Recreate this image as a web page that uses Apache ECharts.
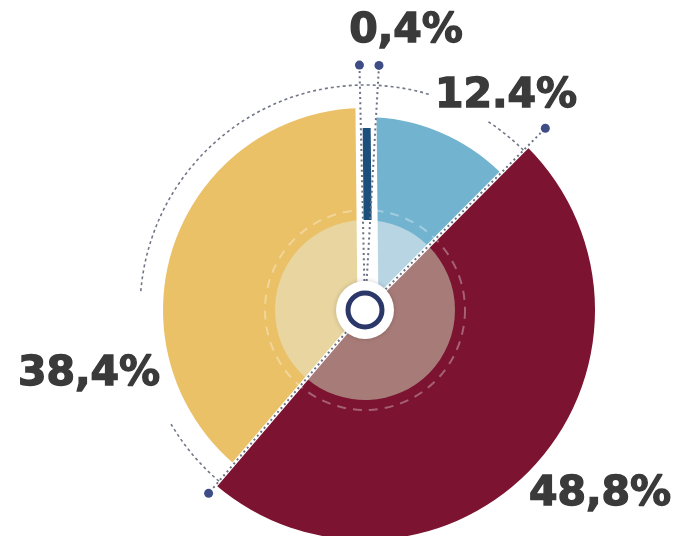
<!DOCTYPE html>
<html>
<head>
<meta charset="utf-8">
<script src="https://cdn.jsdelivr.net/npm/echarts@6/dist/echarts.min.js"></script>
<style>
  html, body { margin: 0; padding: 0; background: #ffffff; }
  #chart { width: 683px; height: 536px; }
</style>
</head>
<body>
<div id="chart"></div>
<script>
// Share of each segment, clockwise from the top
const labels = ['0,4%', '12.4%', '48,8%', '38,4%'];
const values = [0.4, 12.4, 48.8, 38.4];

const colors = ['#1d4f7c', '#72b4d0', '#7b1331', '#ebc168'];
const innerColors = ['rgba(0,0,0,0)', '#b8d5e3', '#a77b78', '#e8d5a0'];
const outerRadius = [182, 193, 230, 202];

const CENTER = [365, 310];
const START = 91.3;
const TRANSPARENT = 'rgba(0,0,0,0)';

// cumulative boundaries, in percent of the full turn
const total = values.reduce((a, b) => a + b, 0);
const cum = [0];
values.forEach(v => cum.push(cum[cum.length - 1] + v / total * 100));

function itemsFor(styleOf) {
  return values.map((v, i) => Object.assign({ value: v, name: labels[i] }, styleOf(i)));
}

const pieBase = {
  type: 'pie',
  center: CENTER,
  startAngle: START,
  clockwise: true,
  silent: true,
  animation: false,
  avoidLabelOverlap: false,
  label: { show: false },
  labelLine: { show: false },
  emphasis: { disabled: true }
};

// one pie per outer radius; the other segments stay transparent
function slicePie(idx) {
  return Object.assign({}, pieBase, {
    z: 1,
    radius: [0, outerRadius[idx]],
    data: itemsFor(i => ({ itemStyle: { color: i === idx ? colors[i] : TRANSPARENT } }))
  });
}

const lightDisc = Object.assign({}, pieBase, {
  z: 2,
  radius: [0, 90],
  data: itemsFor(i => ({ itemStyle: { color: innerColors[i] } }))
});

// value labels
const labelPos = [[406, 31], [506, 96], [600, 494], [89, 374]];
const labelPie = Object.assign({}, pieBase, {
  z: 10,
  radius: [0, 230],
  data: itemsFor(() => ({ itemStyle: { color: TRANSPARENT } })),
  label: {
    show: true,
    position: 'inside',
    formatter: '{b}',
    fontFamily: 'DejaVu Sans',
    fontWeight: 'bold',
    fontSize: 41,
    color: '#3a3a3a',
    textBorderColor: '#3a3a3a',
    textBorderWidth: 1.4
  },
  labelLayout: p => ({
    x: labelPos[p.dataIndex][0],
    y: labelPos[p.dataIndex][1],
    align: 'center',
    verticalAlign: 'middle'
  })
});

const DOT_GREY = '#6b7183';
const DOT_BLUE = '#3e4d86';

function renderDecor(params, api) {
  const c = api.coord([0, 0]);
  const dir = p => {
    const q = api.coord([100, p % 100]);
    const dx = q[0] - c[0], dy = q[1] - c[1];
    const L = Math.hypot(dx, dy);
    return [dx / L, dy / L];
  };
  const at = (r, p) => { const d = dir(p); return [c[0] + d[0] * r, c[1] + d[1] * r]; };
  const ang = p => { const d = dir(p); return Math.atan2(d[1], d[0]); };

  const band = (p, r0, r1, width, shift, color) => {
    const d = dir(p), n = [-d[1], d[0]];
    const w1 = shift - width / 2, w2 = shift + width / 2;
    const A = [c[0] + d[0] * r0, c[1] + d[1] * r0];
    const B = [c[0] + d[0] * r1, c[1] + d[1] * r1];
    return {
      type: 'polygon',
      shape: { points: [
        [A[0] + n[0] * w1, A[1] + n[1] * w1],
        [B[0] + n[0] * w1, B[1] + n[1] * w1],
        [B[0] + n[0] * w2, B[1] + n[1] * w2],
        [A[0] + n[0] * w2, A[1] + n[1] * w2]
      ] },
      style: { fill: color, stroke: 'none' }
    };
  };
  const radial = (p, r0, r1, style) => {
    const a = at(r0, p), b = at(r1, p);
    return { type: 'line', shape: { x1: a[0], y1: a[1], x2: b[0], y2: b[1] },
             style: Object.assign({ fill: 'none' }, style) };
  };
  const dotted = { stroke: DOT_GREY, lineWidth: 2, lineDash: [2, 3.2] };
  const dot = (r, p) => { const q = at(r, p); return { type: 'circle', shape: { cx: q[0], cy: q[1], r: 4.5 }, style: { fill: DOT_BLUE } }; };
  const arc = (p0, p1, r) => {
    const a0 = ang(p0);
    let a1 = ang(p1);
    while (a1 <= a0) a1 += Math.PI * 2;
    return { type: 'arc', shape: { cx: c[0], cy: c[1], r: r, startAngle: a0, endAngle: a1, clockwise: true },
             style: { fill: 'none', stroke: '#737888', lineWidth: 1.6, lineDash: [3, 3] } };
  };

  const children = [];
  // soft dashed ring around the light core
  children.push({ type: 'circle', shape: { cx: c[0], cy: c[1], r: 100 },
                  style: { fill: 'none', stroke: 'rgba(255,255,255,0.33)', lineWidth: 2, lineDash: [9, 7] } });

  // white channel around the smallest segment and its bar
  const smallMid = (cum[0] + cum[1]) / 2;
  children.push(band(smallMid, 0, 206, 21, 3, '#ffffff'));
  children.push(band(smallMid, 90, outerRadius[0], 8, 3.5, colors[0]));
  const gapEdges = [cum[0], cum[1] + 0.87];
  gapEdges.forEach(p => {
    children.push(radial(p, 29, 245, dotted));
    children.push(dot(245, p));
  });

  // edges of the largest segment
  const edgeEnds = [[cum[2], 256], [cum[3], 241]];
  edgeEnds.forEach(([p, rEnd]) => {
    children.push(radial(p, 0, outerRadius[2] + 2, { stroke: '#ffffff', lineWidth: 4 }));
    children.push(radial(p, 29, rEnd, dotted));
    children.push(dot(rEnd, p));
  });

  // dotted guide arc, broken where the labels sit
  const arcGaps = [[66.9, 76.7], [105.1, 109.6]];
  let from = cum[3];
  arcGaps.forEach(([g0, g1]) => { children.push(arc(from, g0, 225)); from = g1; });
  children.push(arc(from, cum[2] + 100, 225));

  // hub
  children.push({ type: 'circle', shape: { cx: c[0], cy: c[1], r: 29 },
                  style: { fill: '#ffffff', shadowBlur: 5, shadowColor: 'rgba(0,0,0,0.18)' } });
  children.push({ type: 'circle', shape: { cx: c[0], cy: c[1], r: 17 },
                  style: { fill: 'none', stroke: '#2b3768', lineWidth: 5 } });

  return { type: 'group', children: children };
}

const chart = echarts.init(document.getElementById('chart'), null, { renderer: 'canvas' });
chart.setOption({
  backgroundColor: '#ffffff',
  animation: false,
  polar: { center: CENTER, radius: 300 },
  angleAxis: { type: 'value', min: 0, max: 100, startAngle: START, clockwise: true, show: false },
  radiusAxis: { type: 'value', min: 0, max: 300, show: false },
  series: [
    slicePie(3),
    slicePie(1),
    slicePie(2),
    lightDisc,
    {
      type: 'custom',
      coordinateSystem: 'polar',
      z: 5,
      silent: true,
      animation: false,
      data: [[0, 0]],
      renderItem: renderDecor
    },
    labelPie
  ]
});
</script>
</body>
</html>
